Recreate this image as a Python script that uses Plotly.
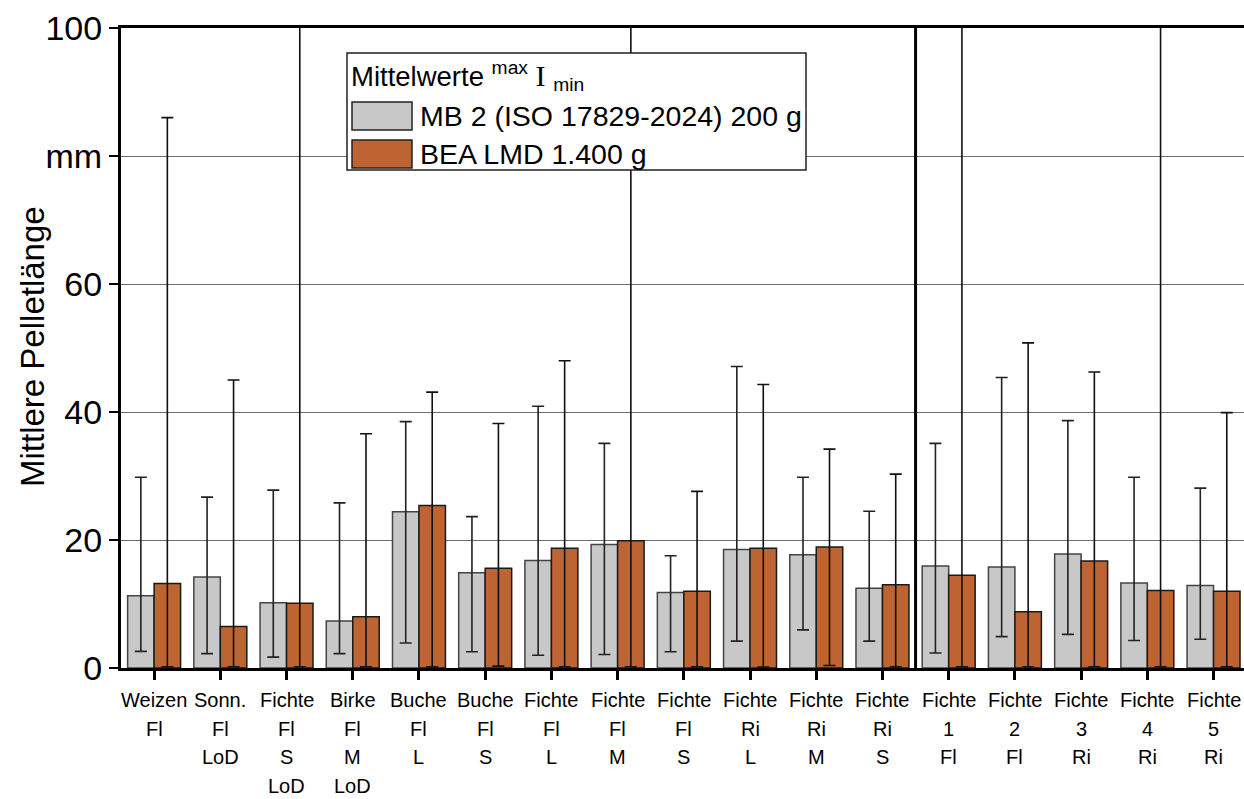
import plotly.graph_objects as go

categories = ["Weizen<br>Fl", "Sonn.<br>Fl<br>LoD", "Fichte<br>Fl<br>S<br>LoD", "Birke<br>Fl<br>M<br>LoD",
              "Buche<br>Fl<br>L", "Buche<br>Fl<br>S", "Fichte<br>Fl<br>L", "Fichte<br>Fl<br>M",
              "Fichte<br>Fl<br>S", "Fichte<br>Ri<br>L", "Fichte<br>Ri<br>M", "Fichte<br>Ri<br>S",
              "Fichte<br>1<br>Fl", "Fichte<br>2<br>Fl", "Fichte<br>3<br>Ri", "Fichte<br>4<br>Ri", "Fichte<br>5<br>Ri"]

mb2_mean = [11.3, 14.2, 10.2, 7.35, 24.4, 14.9, 16.8, 19.3, 11.8, 18.5, 17.7, 12.45, 15.95, 15.8, 17.8, 13.3, 12.9]
mb2_max = [29.8, 26.7, 27.8, 25.8, 38.5, 23.65, 40.9, 35.1, 17.55, 47.1, 29.8, 24.5, 35.1, 45.4, 38.65, 29.8, 28.1]
mb2_min = [2.6, 2.25, 1.7, 2.25, 3.9, 2.55, 2.0, 2.1, 2.55, 4.2, 5.95, 4.2, 2.35, 4.9, 5.25, 4.3, 4.5]

bea_mean = [13.2, 6.5, 10.1, 8.0, 25.4, 15.6, 18.7, 19.9, 12.0, 18.7, 18.9, 13.0, 14.5, 8.8, 16.7, 12.1, 12.0]
bea_max = [86.0, 45.0, 120.0, 36.6, 43.1, 38.2, 48.0, 120.0, 27.6, 44.3, 34.2, 30.3, 120.0, 50.8, 46.25, 120.0, 39.9]
bea_min = [0.2, 0.2, 0.2, 0.2, 0.2, 0.3, 0.2, 0.2, 0.2, 0.15, 0.4, 0.2, 0.2, 0.2, 0.2, 0.2, 0.2]

y_tickvals = [0, 20, 40, 60, 80, 100]
y_ticktext = ["0", "20", "40", "60", "mm", "100"]
y_title = "Mittlere Pelletlänge"

series_names = ["MB 2 (ISO 17829-2024) 200 g", "BEA LMD 1.400 g"]
legend_title = "Mittelwerte <sup>max</sup> <span style=\"font-family:'Liberation Serif';font-size:30px\">I</span> <sub>min</sub>"

W, H = 1244, 799
ML, MR, MT, MB = 121, 0, 28, 131
PW, PH = W - ML - MR, H - MT - MB

def px2x(px):
    return (px - ML) / PW

def px2y(py):
    return (H - MB - py) / PH

FONT = "Liberation Sans, Arial, sans-serif"
GRAY = "#C8C8C8"
ORANGE = "#BD6432"

xs = list(range(len(categories)))

fig = go.Figure()
fig.add_trace(go.Bar(
    x=xs, y=mb2_mean, name=series_names[0],
    marker=dict(color=GRAY, line=dict(color="#444444", width=1.5)),
    error_y=dict(type="data", symmetric=False,
                 array=[mx - m for mx, m in zip(mb2_max, mb2_mean)],
                 arrayminus=[m - mn for m, mn in zip(mb2_mean, mb2_min)],
                 color="#222222", thickness=1.6, width=6),
    showlegend=False,
))
fig.add_trace(go.Bar(
    x=xs, y=bea_mean, name=series_names[1],
    marker=dict(color=ORANGE, line=dict(color="#1a1a1a", width=1.5)),
    error_y=dict(type="data", symmetric=False,
                 array=[mx - m for mx, m in zip(bea_max, bea_mean)],
                 arrayminus=[m - mn for m, mn in zip(bea_mean, bea_min)],
                 color="#111111", thickness=1.6, width=6),
    showlegend=False,
))

annotations = []
# x category labels, line by line
for i, lab in enumerate(categories):
    for j, line in enumerate(lab.split("<br>")):
        annotations.append(dict(
            x=i, xref="x", y=0, yref="paper", text=line, showarrow=False,
            xanchor="center", yanchor="middle", yshift=-(32 + 28.6 * j),
            font=dict(family=FONT, size=20, color="black")))

# y axis title
annotations.append(dict(x=px2x(32), y=px2y(347), xref="paper", yref="paper", text=y_title,
                        showarrow=False, textangle=-90, xanchor="center", yanchor="middle",
                        font=dict(family=FONT, size=33, color="black")))

# custom legend
shapes = []
shapes.append(dict(type="rect", xref="paper", yref="paper",
                   x0=px2x(347), x1=px2x(806), y0=px2y(170), y1=px2y(53),
                   line=dict(color="#222222", width=1.5), fillcolor="white", layer="above"))
annotations.append(dict(x=px2x(349), y=px2y(76), xref="paper", yref="paper", text=legend_title,
                        showarrow=False, xanchor="left", yanchor="middle",
                        font=dict(family=FONT, size=27.5, color="black")))
for k, (nm, col) in enumerate(zip(series_names, [GRAY, ORANGE])):
    yc = 116 + 38 * k
    shapes.append(dict(type="rect", xref="paper", yref="paper",
                       x0=px2x(352), x1=px2x(412), y0=px2y(yc + 14), y1=px2y(yc - 14),
                       line=dict(color="#222222", width=1.5), fillcolor=col, layer="above"))
    annotations.append(dict(x=px2x(418), y=px2y(yc), xref="paper", yref="paper", text=nm,
                            showarrow=False, xanchor="left", yanchor="middle",
                            font=dict(family=FONT, size=28.5, color="black")))

# thick separator between groups
shapes.append(dict(type="line", xref="x", yref="paper", x0=11.5, x1=11.5, y0=0, y1=1,
                   line=dict(color="black", width=3), layer="above"))

fig.update_layout(
    width=W, height=H,
    margin=dict(l=ML, r=MR, t=MT, b=MB),
    paper_bgcolor="white", plot_bgcolor="white",
    barmode="group", bargap=0.2, bargroupgap=0.0,
    font=dict(family=FONT, color="black"),
    shapes=shapes, annotations=annotations,
    xaxis=dict(range=[-0.5, 16.46], tickvals=xs, showticklabels=False,
               ticks="outside", ticklen=9, tickwidth=2.5, tickcolor="black",
               showline=True, linecolor="black", linewidth=3, mirror=True,
               showgrid=False, zeroline=False),
    yaxis=dict(range=[0, 100], tickvals=y_tickvals, ticktext=y_ticktext,
               ticks="outside", ticklen=9, tickwidth=2, tickcolor="black",
               showline=True, linecolor="black", linewidth=3,
               showgrid=True, gridcolor="#6e6e6e", gridwidth=1, zeroline=False,
               tickfont=dict(family=FONT, size=34, color="black")),
)

fig.write_html("out.html")
